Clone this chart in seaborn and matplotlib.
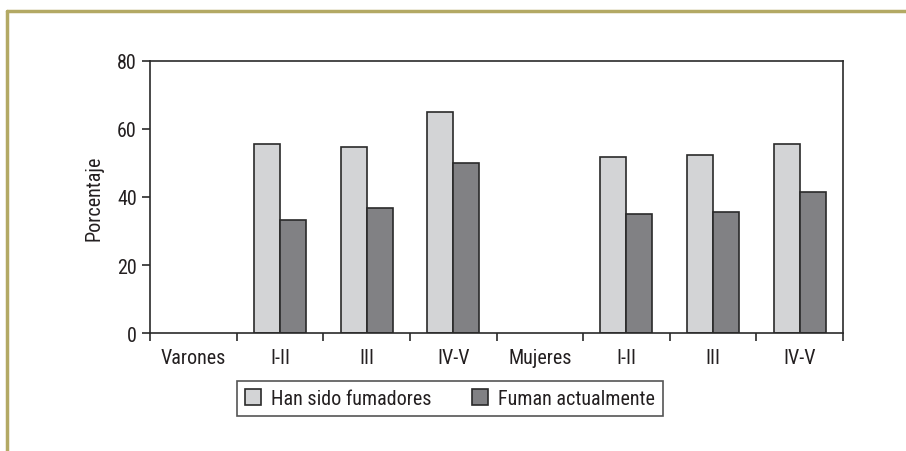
import numpy as np
import pandas as pd
import seaborn as sns
import matplotlib
import matplotlib.pyplot as plt
from matplotlib.lines import Line2D

# groups: two header categories with no bars, then social class
categories = ['Varones', 'V I-II', 'V III', 'V IV-V', 'Mujeres', 'M I-II', 'M III', 'M IV-V']
tick_labels = ['Varones', 'I-II', 'III', 'IV-V', 'Mujeres', 'I-II', 'III', 'IV-V']
series = ['Han sido fumadores', 'Fuman actualmente']
han_sido = [np.nan, 55.5, 54.6, 64.9, np.nan, 51.7, 52.3, 55.5]
fuman = [np.nan, 33.2, 36.9, 50.0, np.nan, 34.9, 35.5, 41.4]
colors = ['#d3d4d6', '#808184']

df = pd.DataFrame({
    'grupo': categories * 2,
    'serie': [series[0]] * len(categories) + [series[1]] * len(categories),
    'valor': han_sido + fuman,
})

sns.set_style('white')
plt.rcParams['font.family'] = ['Roboto Condensed', 'DejaVu Sans']
fs = 14.5
matplotlib.rcParams.update({'font.size': fs})
txt = '#231f20'

fig = plt.figure(figsize=(9.06, 4.52), dpi=100)
ax = fig.add_axes([150 / 906, 1 - 334 / 452, (843 - 150) / 906, (334 - 62) / 452])

sns.barplot(data=df.dropna(), x='grupo', y='valor', hue='serie', order=categories,
            hue_order=series, palette=colors, width=0.6, gap=0,
            edgecolor='#2a2a2a', linewidth=1.2, ax=ax, legend=True)

ax.set_xlim(-0.5, len(categories) - 0.5)
ax.set_ylim(0, 80)
ax.set_yticks([0, 20, 40, 60, 80])
ax.set_ylabel('Porcentaje', fontsize=fs, labelpad=10, color=txt)
ax.set_xlabel('')

# ticks on the boundaries, labels centred
ax.set_xticks(np.arange(len(categories) + 1) - 0.5)
ax.set_xticklabels([])
ax.set_xticks(np.arange(len(categories)), minor=True)
ax.set_xticklabels(tick_labels, minor=True)
ax.tick_params(axis='x', which='major', direction='out', length=6, width=1.2, color='#2a2a2a', bottom=True)
ax.tick_params(axis='x', which='minor', length=0, pad=11, labelsize=fs, labelcolor=txt)
ax.tick_params(axis='y', direction='out', length=5.5, width=1.2, color='#2a2a2a', left=True,
               labelsize=fs, labelcolor=txt, pad=4)

for s in ax.spines.values():
    s.set_color('#2a2a2a')
    s.set_linewidth(1.2)

ax.legend(loc='upper left', bbox_to_anchor=(237 / 906, 1 - 382 / 452), bbox_transform=fig.transFigure,
          ncol=2, frameon=True, fancybox=False, edgecolor='#2a2a2a', borderaxespad=0,
          fontsize=fs, handlelength=0.8, handleheight=0.8, handletextpad=0.5, columnspacing=2.0,
          borderpad=0.4, labelcolor=txt)
ax.get_legend().get_frame().set_linewidth(1.2)

# olive frame, top and left only
fig.add_artist(Line2D([7 / 906, 1], [1 - 12 / 452, 1 - 12 / 452], color='#b3a964', lw=2.5,
                      transform=fig.transFigure))
fig.add_artist(Line2D([7 / 906, 7 / 906], [0, 1 - 12 / 452], color='#b3a964', lw=2.5,
                      transform=fig.transFigure))

fig.savefig('out.png', dpi=100)
